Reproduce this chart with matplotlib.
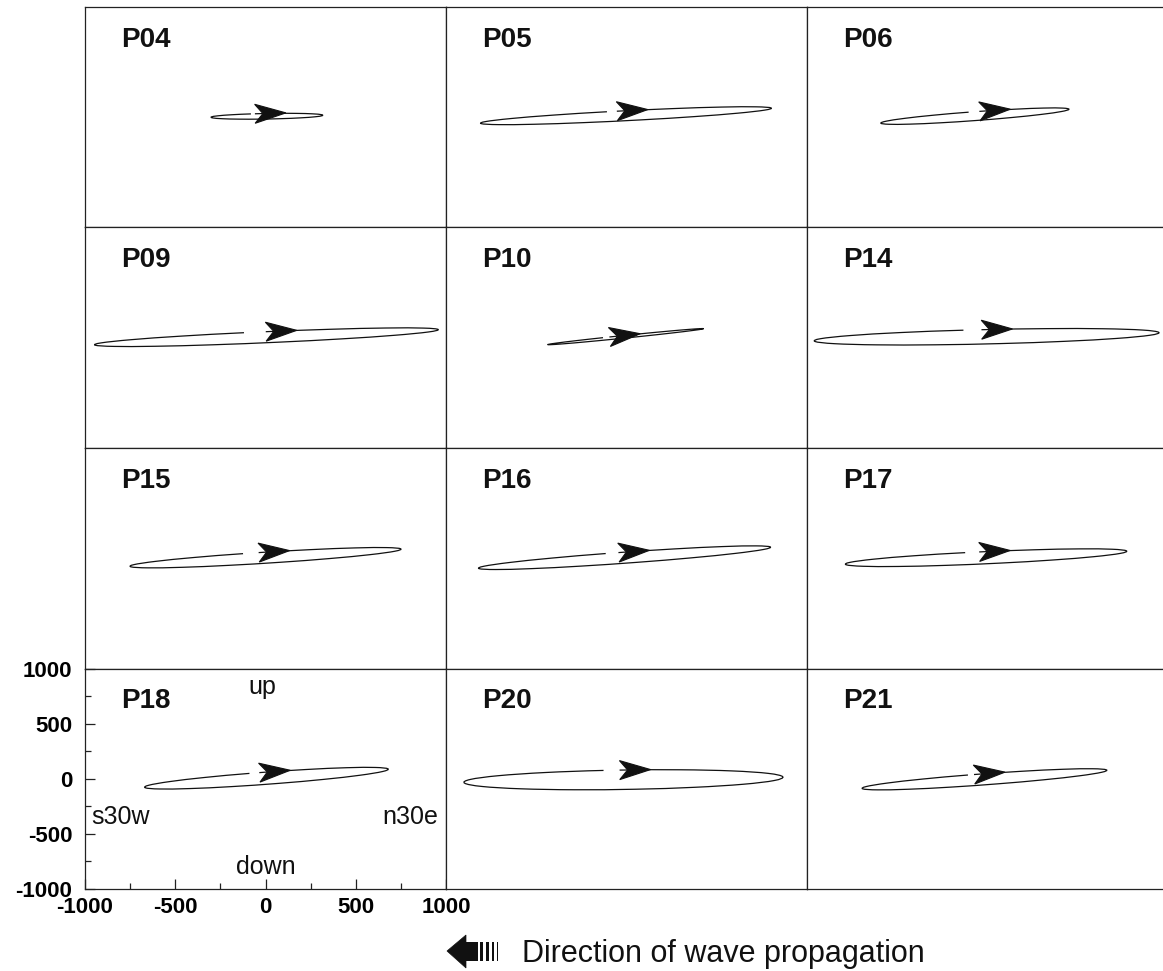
import numpy as np
import matplotlib
matplotlib.use('Agg')
import matplotlib.pyplot as plt
from matplotlib.patches import Arc, Polygon, Rectangle
from matplotlib.transforms import Affine2D, ScaledTranslation

plt.rcParams['font.family'] = ['Liberation Sans', 'DejaVu Sans']
plt.rcParams['axes.unicode_minus'] = False

# particle-motion ellipses, one per station (panel order: left->right, top->bottom)
stations = ['P04', 'P05', 'P06', 'P09', 'P10', 'P14',
            'P15', 'P16', 'P17', 'P18', 'P20', 'P21']
center_x = [8, -3, -70, 5, -5, -5, 0, -11, -8, 5, -17, -17]
center_y = [9, 14, 10, 5, 10, 9, 5, 5, 5, 5, -9, -5]
semi_major = [310, 809, 525, 955, 438, 956, 755, 815, 782, 680, 884, 683]
semi_minor = [25, 45, 40, 50, 12, 65, 50, 50, 55, 55, 88, 50]
tilt_deg = [1.7, 4.8, 6.9, 4.1, 9.5, 2.2, 5.9, 6.7, 4.3, 6.9, 1.5, 6.9]
# position along the major axis (from the centre) where the trace starts / stops
trace_start = [-66, -47, 30, 0, -89, -26, -33, -28, -34, -33, -19, -52]
trace_end = [-88, -102, -30, -121, -125, -126, -120, -99, -112, -88, -108, -86]

major_ticks = [-1000, -500, 0, 500, 1000]
minor_ticks = [-750, -250, 250, 750]

W, H = 1163, 971
fig = plt.figure(figsize=(W / 100, H / 100), dpi=100)

col_left = [85, 446, 807]
row_top = [7, 227.5, 448, 668.5]
pw, ph = 361, 220.5

ink = '#111111'


def upper_point(u, a, b):
    return b * np.sqrt(max(0.0, 1 - (u / a) ** 2))


def arrowhead(ax, x, y, dx, dy):
    # stealth-type head, sized in pixels, back of the head sits on (x, y)
    p0 = ax.transData.transform((x, y))
    p1 = ax.transData.transform((x + dx, y + dy))
    ang = np.arctan2(p1[1] - p0[1], p1[0] - p0[0])
    verts = [(0, 9.5), (8, 0), (0, -9.5), (31, 0)]
    tr = Affine2D().rotate(ang) + ScaledTranslation(x, y, ax.transData)
    ax.add_patch(Polygon(verts, closed=True, transform=tr, facecolor=ink,
                         edgecolor=ink, lw=0.8, zorder=4))


for i, name in enumerate(stations):
    r, c = divmod(i, 3)
    left = col_left[c] / W
    bottom = (H - row_top[r] - ph) / H
    ax = fig.add_axes([left, bottom, pw / W, ph / H])
    ax.set_xlim(-1000, 1000)
    ax.set_ylim(-1000, 1000)
    for s in ax.spines.values():
        s.set_color('#222222')
        s.set_linewidth(0.9)

    a, b, al = semi_major[i], semi_minor[i], np.deg2rad(tilt_deg[i])
    cx, cy = center_x[i], center_y[i]

    us, ue = trace_start[i], trace_end[i]
    vs, ve = upper_point(us, a, b), upper_point(ue, a, b)
    th_start = np.degrees(np.arctan2(vs, us))
    th_end = np.degrees(np.arctan2(ve, ue))
    ax.add_patch(Arc((cx, cy), 2 * a, 2 * b, angle=tilt_deg[i],
                     theta1=th_end, theta2=th_start + 360,
                     color=ink, lw=0.9, zorder=3))

    # start of the trace, moving clockwise
    xs = cx + us * np.cos(al) - vs * np.sin(al)
    ys = cy + us * np.sin(al) + vs * np.cos(al)
    tu, tv = a * vs / b, -b * us / a
    dx = tu * np.cos(al) - tv * np.sin(al)
    dy = tu * np.sin(al) + tv * np.cos(al)
    norm = np.hypot(dx, dy)
    arrowhead(ax, xs, ys, dx / norm * 10, dy / norm * 10)

    ax.text(-800, 640, name, fontsize=20, fontweight='bold', color=ink)

    if name == 'P18':
        ax.set_xticks(major_ticks)
        ax.set_xticks(minor_ticks, minor=True)
        ax.set_yticks(major_ticks)
        ax.set_yticks(minor_ticks, minor=True)
        ax.tick_params(which='both', direction='in', color='#222222', width=0.9)
        ax.tick_params(which='major', length=7, labelsize=16)
        ax.tick_params(axis='x', which='major', pad=6)
        ax.tick_params(axis='y', which='major', pad=9)
        ax.tick_params(which='minor', length=4)
        for lbl in ax.get_xticklabels() + ax.get_yticklabels():
            lbl.set_fontweight('bold')
        ax.text(-20, 770, 'up', fontsize=18, ha='center', color=ink)
        ax.text(0, -866, 'down', fontsize=18, ha='center', color=ink)
        ax.text(-964, -411, 's30w', fontsize=18, ha='left', color=ink)
        ax.text(958, -411, 'n30e', fontsize=18, ha='right', color=ink)
    else:
        ax.set_xticks([])
        ax.set_yticks([])

# propagation-direction key below the panels, drawn in pixel space
key = fig.add_axes([0, 0, 1, 1])
key.set_xlim(0, W)
key.set_ylim(H, 0)
key.axis('off')
key.patch.set_visible(False)
key.add_patch(Polygon([(447, 951), (466, 935), (466, 968)], closed=True,
                      facecolor=ink, edgecolor=ink, lw=0.5))
key.add_patch(Rectangle((465, 942), 13, 19, facecolor=ink, edgecolor='none'))
for bx, bw in [(480, 3.2), (486, 2.6), (491.5, 2.0), (496.5, 1.5)]:
    key.add_patch(Rectangle((bx, 942), bw, 19, facecolor=ink, edgecolor='none'))
key.text(522, 962, 'Direction of wave propagation', fontsize=22,
         ha='left', va='baseline', color=ink)

fig.savefig('out.png', dpi=100)
